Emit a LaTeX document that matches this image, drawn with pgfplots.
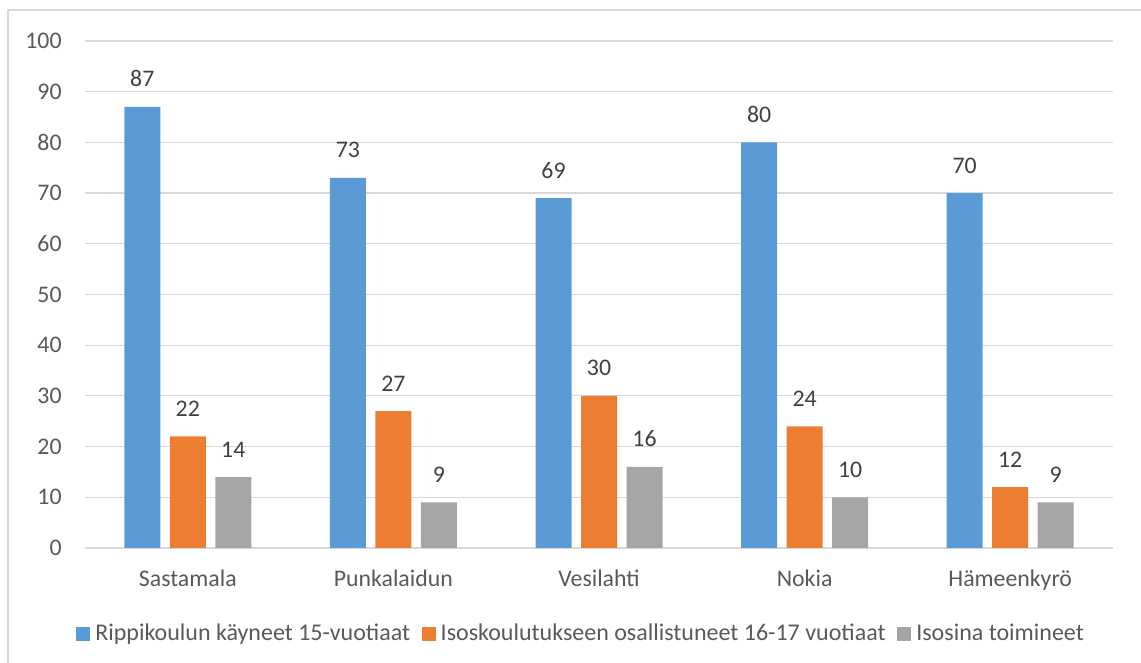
\documentclass[border=0pt]{standalone}
\usepackage{fontspec}
\setmainfont{Carlito}
\usepackage{pgfplots}
\pgfplotsset{compat=1.18}
\definecolor{cblue}{HTML}{5B9BD5}
\definecolor{corange}{HTML}{ED7D31}
\definecolor{cgray}{HTML}{A5A5A5}
\definecolor{ctext}{HTML}{595959}
\definecolor{clabel}{HTML}{404040}
\definecolor{cgrid}{HTML}{D9D9D9}
\begin{document}
\begin{tikzpicture}
% page: 1141 x 663 px, 1 px = 0.5 pt
\useasboundingbox (0,0) rectangle (570.5pt,331.5pt);
\draw[cgrid, line width=0.6pt] (4pt,-5pt) -- (4pt,326.5pt) -- (580pt,326.5pt);
\begin{axis}[
  at={(42.5pt,57.5pt)}, anchor=south west,
  scale only axis, width=514pt, height=253.5pt,
  ybar, bar width=18pt,
  xmin=-0.5, xmax=4.5, ymin=0, ymax=100,
  xtick=data,
  xticklabels={Sastamala,Punkalaidun,Vesilahti,Nokia,Hämeenkyrö},
  ytick={0,10,...,100},
  axis x line*=bottom, axis y line*=left,
  x axis line style={cgrid, line width=0.6pt},
  y axis line style={draw=none},
  major tick length=0pt,
  ymajorgrids, grid style={cgrid, line width=0.6pt},
  yticklabel style={anchor=east, inner sep=0pt, xshift=-11.5pt},
  xticklabel style={anchor=base, inner sep=0pt, yshift=-19.5pt},
  tick label style={font=\fontsize{11.9}{14}\selectfont, text=ctext},
  /pgf/number format/assume math mode=true,
  ytick style={draw=none}, xtick style={draw=none},
  nodes near coords,
  nodes near coords style={font=\fontsize{11.9}{14}\selectfont, text=clabel, anchor=base, inner sep=0pt, yshift=10pt},
  legend columns=3,
  legend style={draw=none, fill=none, inner sep=0pt, font=\fontsize{12}{14}\selectfont, text=ctext,
    at={(axis description cs:-0.0088,-0.1696)}, anchor=west,
    nodes={inner sep=0pt},
    /tikz/every odd column/.append style={column sep=2.5pt},
    /tikz/every even column/.append style={column sep=5.8pt}},
  legend image code/.code={\fill[#1] (0pt,-3.5pt) rectangle (7pt,3.5pt);},
]
\addplot[fill=cblue, draw=none, bar shift=-22.75pt] coordinates {(0,87) (1,73) (2,69) (3,80) (4,70)};
\addplot[fill=corange, draw=none, bar shift=0pt] coordinates {(0,22) (1,27) (2,30) (3,24) (4,12)};
\addplot[fill=cgray, draw=none, bar shift=22.75pt] coordinates {(0,14) (1,9) (2,16) (3,10) (4,9)};
\legend{Rippikoulun käyneet 15-vuotiaat, Isoskoulutukseen osallistuneet 16-17 vuotiaat, Isosina toimineet}
\end{axis}
\end{tikzpicture}
\end{document}
